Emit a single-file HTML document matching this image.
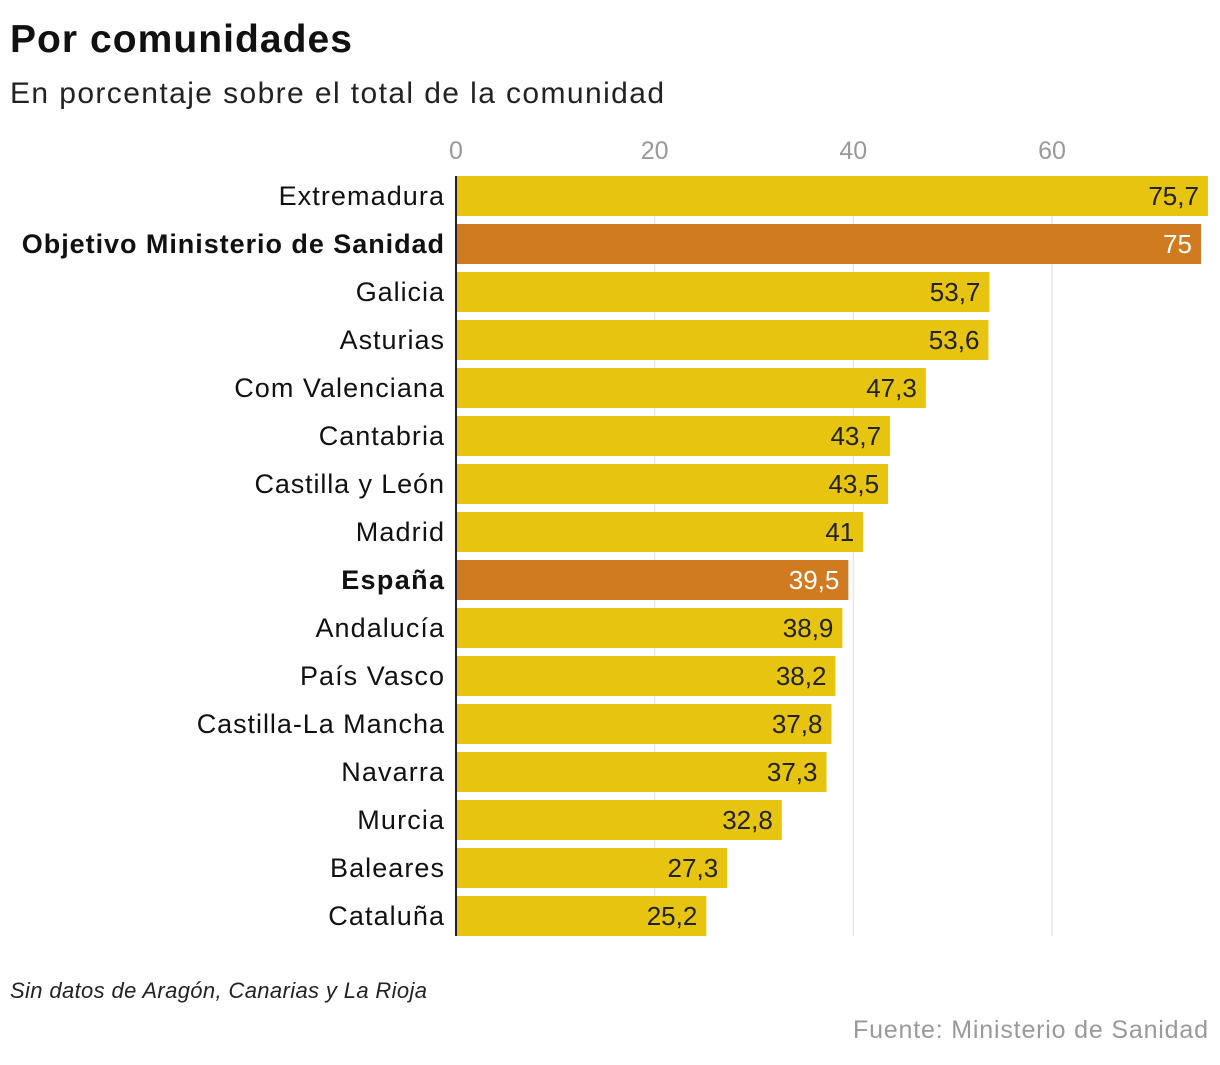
<!DOCTYPE html>
<html><head><meta charset="utf-8"><style>
body{margin:0;background:#fff;width:1220px;height:1060px;overflow:hidden;font-family:"Liberation Sans",sans-serif;}
</style></head><body>
<svg width="1220" height="1060">
<text x="10" y="52" font-size="39" font-weight="bold" fill="#111" textLength="342">Por comunidades</text>
<text x="10" y="103" font-size="30" fill="#222" textLength="654">En porcentaje sobre el total de la comunidad</text>
<g id="grid"></g><g id="bars"></g>
<line x1="456" y1="176" x2="456" y2="936" stroke="#222" stroke-width="2"/>
<text x="10" y="998" font-size="22" font-style="italic" fill="#222" textLength="417">Sin datos de Aragón, Canarias y La Rioja</text>
<text x="853" y="1038" font-size="25" fill="#999" textLength="355">Fuente: Ministerio de Sanidad</text>
</svg>
<script>
const categories=["Extremadura","Objetivo Ministerio de Sanidad","Galicia","Asturias","Com Valenciana","Cantabria","Castilla y León","Madrid","España","Andalucía","País Vasco","Castilla-La Mancha","Navarra","Murcia","Baleares","Cataluña"];
const values=[75.7,75,53.7,53.6,47.3,43.7,43.5,41,39.5,38.9,38.2,37.8,37.3,32.8,27.3,25.2];
const highlighted=["Objetivo Ministerio de Sanidad","España"];
const ticks=[0,20,40,60];
const NS="http://www.w3.org/2000/svg";
const x=v=>456+v*9.933;
const y=i=>176+i*48;
const grid=document.getElementById('grid'),bars=document.getElementById('bars');
function mk(t,a,p){const e=document.createElementNS(NS,t);for(const k in a)e.setAttribute(k,a[k]);p.appendChild(e);return e;}
ticks.forEach(t=>{
 if(t>0){const l=mk('line',{x1:x(t),x2:x(t),y1:176,y2:936,stroke:'#ddd','stroke-width':1},grid);
 
 }
 const tx=mk('text',{x:x(t),y:159,'font-size':25,fill:'#999','text-anchor':'middle'},grid);tx.textContent=t;
 
 
});
categories.forEach((c,i)=>{
 const hi=highlighted.includes(c);
 const r=mk('rect',{x:456,y:y(i),width:x(values[i])-456,height:40,fill:hi?'#d07b1f':'#e6c40f'},bars);
 
 
 const lb=mk('text',{x:444,y:y(i)+29,'font-size':27,'text-anchor':'end',fill:'#111','font-weight':hi?'bold':'normal'},bars);lb.textContent=c;
 
 
 const w=lb.getComputedTextLength();
 lb.setAttribute('textLength',(w*1.07).toFixed(1));
 const vl=mk('text',{x:x(values[i])-9,y:y(i)+29,'font-size':26,'text-anchor':'end',fill:hi?'#fff':'#222'},bars);vl.textContent=String(values[i]).replace('.',',');
 
 
});
</script>
</body></html>
